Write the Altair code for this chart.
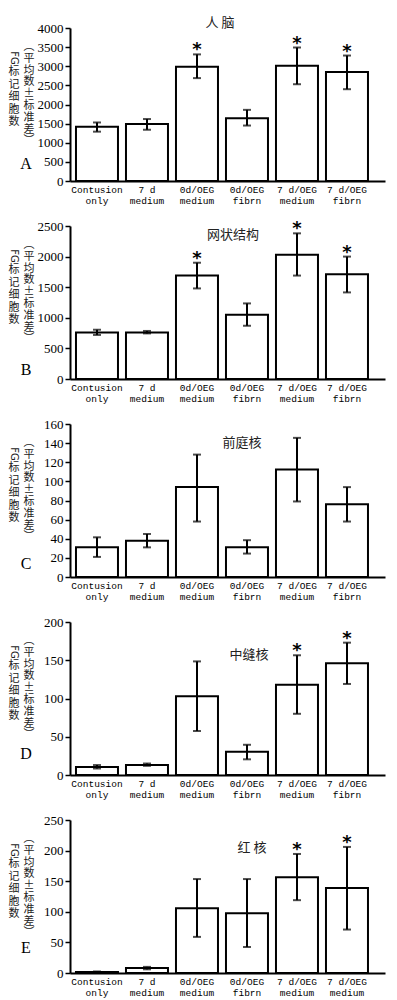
import json
import altair as alt
import pandas as pd

# ---------------- data ----------------
categories = ["Contusion\nonly", "7 d\nmedium", "0d/OEG\nmedium", "0d/OEG\nfibrn",
              "7 d/OEG\nmedium", "7 d/OEG\nfibrn"]
categories_e = ["Contusion\nonly", "7 d\nmedium", "0d/OEG\nmedium", "0d/OEG\nfibrn",
                "7 d/OEG\nmedium", "7 d/OEG\nmedium"]

titles = ["人  脑", "网状结构", "前庭核", "中缝核", "红   核"]
letters = ["A", "B", "C", "D", "E"]

a_mean = [1420, 1490, 2990, 1640, 3015, 2850]
a_low = [1290, 1340, 2690, 1450, 2530, 2400]
a_high = [1530, 1620, 3310, 1860, 3490, 3280]
a_star = [False, False, True, False, True, True]
a_ticks = [0, 500, 1000, 1500, 2000, 2500, 3000, 3500, 4000]

b_mean = [760, 760, 1690, 1050, 2030, 1710]
b_low = [720, 745, 1480, 870, 1690, 1415]
b_high = [805, 785, 1900, 1235, 2380, 2000]
b_star = [False, False, True, False, True, True]
b_ticks = [0, 500, 1000, 1500, 2000, 2500]

c_mean = [31, 38, 94, 31, 112.5, 76]
c_low = [21, 31, 58, 24.5, 79, 58]
c_high = [41.5, 45, 128, 38.5, 145.5, 94]
c_star = [False, False, False, False, False, False]
c_ticks = [0, 20, 40, 60, 80, 100, 120, 140, 160]

d_mean = [10.5, 13, 103, 30.5, 118, 146]
d_low = [8.5, 12, 57.5, 20.5, 80, 119]
d_high = [13, 15, 148.5, 39.5, 156.5, 173]
d_star = [False, False, False, False, True, True]
d_ticks = [0, 50, 100, 150, 200]

e_mean = [1.5, 8, 106, 97.5, 156.5, 139]
e_low = [0.5, 6, 59, 42.5, 119, 71]
e_high = [2.5, 10, 153.5, 153.5, 194.5, 206]
e_star = [False, False, False, False, True, True]
e_ticks = [0, 50, 100, 150, 200, 250]

ylabel_main = "标记细胞数"
ylabel_fg = "FG"
ylabel_paren = ["︵", "平", "均", "数", "±", "标", "准", "差", "︶"]

W, H = 315, 153
SERIF = "Liberation Serif"
MONO = "Liberation Mono"
CJK = "Noto Sans CJK SC"


def panel(cats, mean, low, high, star, ticks, title, letter, title_xy, letter_y):
    df = pd.DataFrame({"idx": list(range(len(cats))), "mean": mean,
                       "low": low, "high": high, "star": star})
    lab = json.dumps([c.split("\n") for c in cats], ensure_ascii=False)
    xscale = alt.Scale(paddingInner=0.16, paddingOuter=0.23, align=0.26)
    xaxis = alt.Axis(title=None, labelAngle=0, labelExpr=lab + "[datum.value]",
                     ticks=False, domainWidth=2, domainColor="black",
                     labelFont=MONO, labelFontSize=9.5, labelLineHeight=11,
                     labelPadding=3, labelColor="black", labelBaseline="top",
                     labelOverlap=False)
    yscale = alt.Scale(domain=[0, ticks[-1]], nice=False)
    yaxis = alt.Axis(title=None, values=ticks, grid=False, domainWidth=2,
                     domainColor="black", tickColor="black", tickWidth=1.5,
                     tickSize=5, labelFont=SERIF, labelFontSize=13, format="d",
                     labelPadding=2, labelColor="black", labelOverlap=False)
    base = alt.Chart(df)
    x = alt.X("idx:O", scale=xscale, axis=xaxis)

    def Y(f):
        return alt.Y(f, scale=yscale, axis=yaxis)

    bars = base.mark_bar(fill="white", stroke="black", strokeWidth=2).encode(
        x=x, y=Y("mean:Q"))
    rules = base.mark_rule(color="black", strokeWidth=2).encode(
        x=x, y=Y("low:Q"), y2="high:Q")
    cap_lo = base.mark_tick(color="black", thickness=2, size=8).encode(
        x=x, y=Y("low:Q"))
    cap_hi = base.mark_tick(color="black", thickness=2, size=8).encode(
        x=x, y=Y("high:Q"))
    stars = base.transform_filter("datum.star").mark_text(
        text="*", font="DejaVu Sans", fontWeight="bold", fontSize=18,
        baseline="alphabetic", dy=1, color="black").encode(
        x=x, y=Y("high:Q"))

    one = alt.Chart(pd.DataFrame({"k": [0]}))
    t_title = one.mark_text(text=title, font=CJK, fontSize=13, color="#222").encode(
        x=alt.value(title_xy[0]), y=alt.value(title_xy[1]))
    t_letter = one.mark_text(text=letter, font=SERIF, fontSize=16, color="black").encode(
        x=alt.value(-44), y=alt.value(letter_y))
    t_fg = one.mark_text(text=ylabel_fg, font="DejaVu Sans", fontSize=10, angle=90,
                         color="#222").encode(x=alt.value(-56), y=alt.value(30))
    t_main = one.mark_text(text=list(ylabel_main), font=CJK, fontSize=11, lineHeight=12.5,
                           baseline="top", color="#222").encode(
        x=alt.value(-56), y=alt.value(38))
    t_paren = one.mark_text(text=ylabel_paren, font=CJK, fontSize=11, lineHeight=11.8,
                            baseline="top", color="#222").encode(
        x=alt.value(-41), y=alt.value(13))
    return alt.layer(bars, rules, cap_lo, cap_hi, stars, t_title, t_letter,
                     t_fg, t_main, t_paren).properties(width=W, height=H)


pA = panel(categories, a_mean, a_low, a_high, a_star, a_ticks, titles[0], letters[0], (150, -5), 136)
pB = panel(categories, b_mean, b_low, b_high, b_star, b_ticks, titles[1], letters[1], (163, 9), 144)
pC = panel(categories, c_mean, c_low, c_high, c_star, c_ticks, titles[2], letters[2], (172, 19), 140)
pD = panel(categories, d_mean, d_low, d_high, d_star, d_ticks, titles[3], letters[3], (179, 33), 132)
pE = panel(categories_e, e_mean, e_low, e_high, e_star, e_ticks, titles[4], letters[4], (182, 28), 128)

chart = alt.vconcat(pA, pB, pC, pD, pE, spacing=45, bounds="flush").properties(
    padding={"left": 0, "top": 9, "right": 4, "bottom": 4},
    background="white",
).configure_view(stroke=None)

chart.save("out.html", embed_options={"renderer": "svg", "actions": False})
